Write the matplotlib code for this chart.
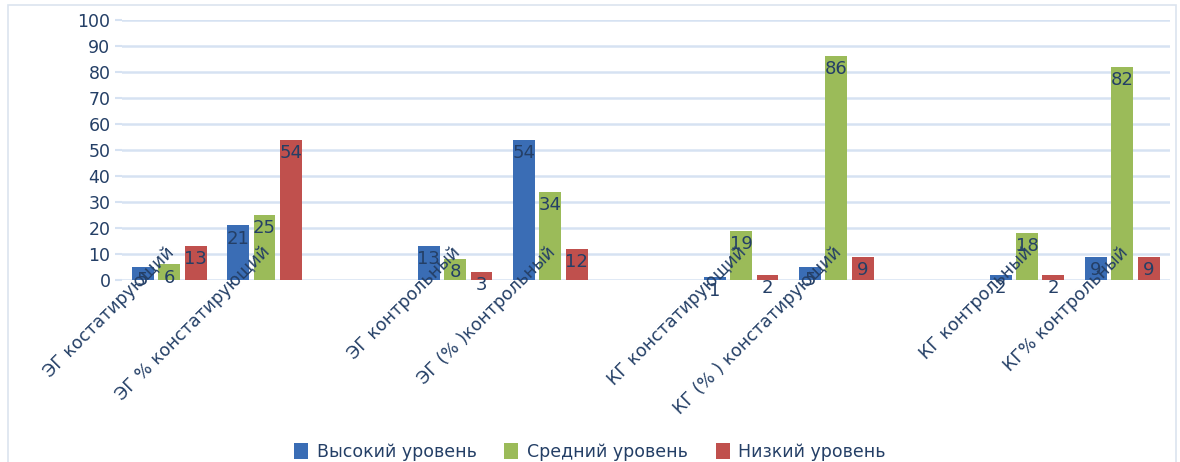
import matplotlib
matplotlib.use("Agg")
import matplotlib.pyplot as plt
import matplotlib.transforms as mtransforms
from matplotlib.patches import Rectangle
import numpy as np

# chart data (empty slots are gaps in the original chart)
categories = ["ЭГ костатирующий", "ЭГ % констатирующий", "",
              "ЭГ контрольный", "ЭГ (% )контрольный", "",
              "КГ констатирующий", "КГ (% ) констатирующий", "",
              "КГ контрольный", "КГ% контрольный"]
high = [5, 21, None, 13, 54, None, 1, 5, None, 2, 9]
mid = [6, 25, None, 8, 34, None, 19, 86, None, 18, 82]
low = [13, 54, None, 3, 12, None, 2, 9, None, 2, 9]
series_names = ["Высокий уровень", "Средний уровень", "Низкий уровень"]
colors = ["#3A6DB5", "#9BBB59", "#C0504D"]

text_color = "#243F66"
grid_color = "#D6E2F2"

plt.rcParams['font.family'] = ['DejaVu Sans']

fig = plt.figure(figsize=(11.8, 4.62), dpi=100)
ax = fig.add_axes([0.103, 0.394, 0.8885, 0.563])

# outer frame of the chart area
fig.patches.append(Rectangle((0.007, -0.02), 0.99, 1.01, transform=fig.transFigure,
                             fill=False, edgecolor="#DCE4EF", linewidth=1.2))

x = np.arange(len(categories))
width = 0.23
step = 0.277
handles = []
for i, (vals, name, col) in enumerate(zip([high, mid, low], series_names, colors)):
    v = np.array([np.nan if a is None else a for a in vals], dtype=float)
    pos = x + (i - 1) * step
    b = ax.bar(pos, v, width, color=col, label=name, zorder=3)
    handles.append(b)
    off = mtransforms.offset_copy(ax.transData, fig=fig, x=0, y=-3, units='points')
    for px, val in zip(pos, v):
        if np.isnan(val):
            continue
        ax.text(px, val, f"{int(val)}", ha='center', va='top', fontsize=13,
                color=text_color, transform=off, zorder=5)

ax.set_xlim(-0.5, len(categories) - 0.5)
ax.set_ylim(0, 100)
ax.set_yticks(np.arange(0, 101, 10))
ax.tick_params(axis='y', colors=grid_color, labelcolor=text_color, labelsize=12.5,
               length=5, width=1.5, pad=3)
ax.set_xticks([])
ax.yaxis.grid(True, color=grid_color, linewidth=1.8, zorder=0)
for s in ax.spines.values():
    s.set_visible(False)

# rotated category labels, placed like the original (overlapping the bars)
lab_tr = mtransforms.offset_copy(ax.transData, fig=fig, x=2, y=22, units='points')
for px, name in zip(x, categories):
    if not name:
        continue
    ax.text(px, 0, name, rotation=45, rotation_mode='anchor', ha='right', va='center',
            fontsize=12.5, color=text_color, transform=lab_tr, zorder=6)

leg = fig.legend(handles=handles, labels=series_names, loc='center', ncol=3,
                 bbox_to_anchor=(0.5, 0.022), frameon=False, fontsize=12.5,
                 handlelength=0.8, handleheight=1.1, handletextpad=0.5, columnspacing=1.6)
for t in leg.get_texts():
    t.set_color(text_color)

fig.savefig("out.png", dpi=100)
